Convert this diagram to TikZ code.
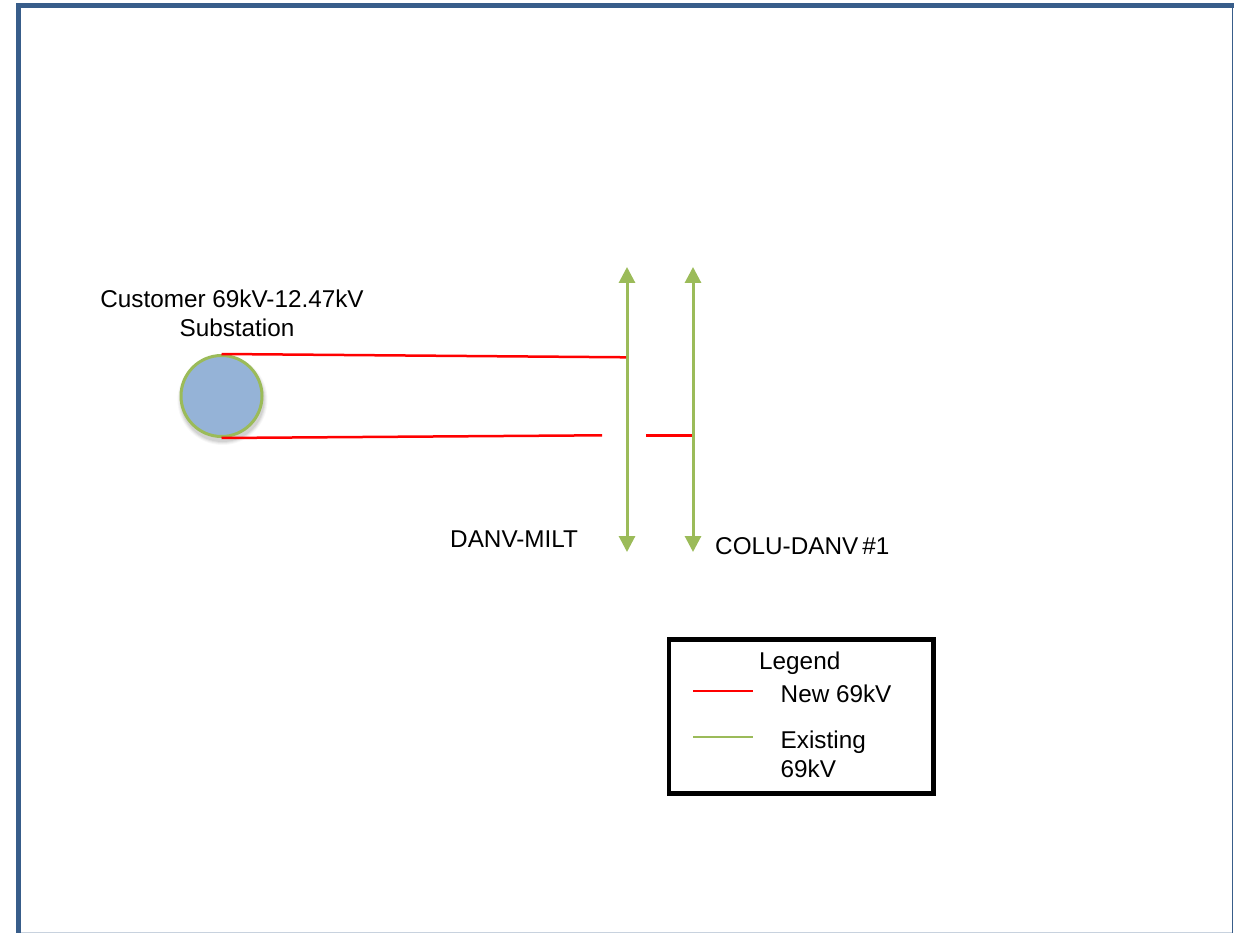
\documentclass[tikz,border=0pt]{standalone}
\usepackage{fontspec}
\setmainfont{Liberation Sans}
\usetikzlibrary{arrows.meta}
\definecolor{framecol}{RGB}{56,93,138}
\definecolor{greencol}{RGB}{155,187,89}
\definecolor{fillcol}{RGB}{149,179,215}
\definecolor{newred}{RGB}{255,0,0}
\definecolor{edgegrey}{RGB}{200,210,222}
\tikzset{
  lbl/.style={inner sep=0pt, font=\fontsize{24.3}{29}\selectfont, text=black},
  newline/.style={draw=newred, line width=2.5pt},
  existline/.style={draw=greencol, line width=3pt},
  existarrow/.style={existline, {Triangle[width=16pt,length=16pt]}-{Triangle[width=16pt,length=16pt]}},
  subst/.style={circle, draw=greencol, line width=3pt, fill=fillcol, minimum size=81pt, inner sep=0pt},
  shadowdisc/.style={fill=black, draw=none},
  legendbox/.style={draw=black, line width=4.5pt, fill=white}
}
\begin{document}
\begin{tikzpicture}[x=1pt,y=-1pt]
\useasboundingbox (0,0) rectangle (1234,933);
% frame
\fill[white] (16,3) rectangle (1234,933);
\draw[edgegrey, line width=1.2pt] (21,932.3) -- (1232,932.3);
\draw[framecol, line width=1.2pt] (1232.6,3) -- (1232.6,933);
\fill[framecol] (16,3) rectangle (1234,8);
\fill[framecol] (16,3) rectangle (21,933);

% substation shadow
\foreach \r/\o in {45/0.03,44/0.04,43/0.05,42/0.06}{
  \fill[shadowdisc, opacity=\o] (222.5,400) circle[radius=\r];
}
% substation
\node[subst] (sub) at (221.5,396) {};
\node[lbl, anchor=base] (sublbl1) at (232,308) {Customer 69kV-12.47kV};
\node[lbl, anchor=base] (sublbl2) at (237,337) {Substation};

% existing lines
\coordinate (l1top) at (627,267);
\coordinate (l1bot) at (627,552);
\coordinate (l2top) at (693,267);
\coordinate (l2bot) at (693,552);
\draw[existarrow] (l1top) -- (l1bot);
\draw[existarrow] (l2top) -- (l2bot);

% new lines
\coordinate (tapA) at (626,357.3);
\coordinate (gapL) at (602,435.3);
\coordinate (gapR) at (646,435.3);
\coordinate (tapB) at (692,435.3);
\draw[newline] (sub.north) -- (tapA);
\draw[newline] (sub.south) -- (gapL);
\draw[newline] (gapR) -- (tapB);

% line labels
\node[lbl, anchor=base west] (danv) at (450,547) {DANV-MILT};
\node[lbl, anchor=base west] (colu) at (715,554) {COLU-DANV\,\#1};

% legend
\draw[legendbox] (669,639.5) rectangle (933.5,793.5);
\node[lbl, anchor=base west] (legtitle) at (759,669) {Legend};
\coordinate (lr1) at (693,691);
\coordinate (lr2) at (753,691);
\draw[newline] (lr1) -- (lr2);
\node[lbl, anchor=base west] (legnew) at (780.5,702.7) {New 69kV};
\coordinate (lg1) at (693,737);
\coordinate (lg2) at (753,737);
\draw[existline, line width=2.5pt] (lg1) -- (lg2);
\node[lbl, anchor=base west] (legex1) at (780.5,748) {Existing};
\node[lbl, anchor=base west] (legex2) at (780.5,777) {69kV};
\end{tikzpicture}
\end{document}
